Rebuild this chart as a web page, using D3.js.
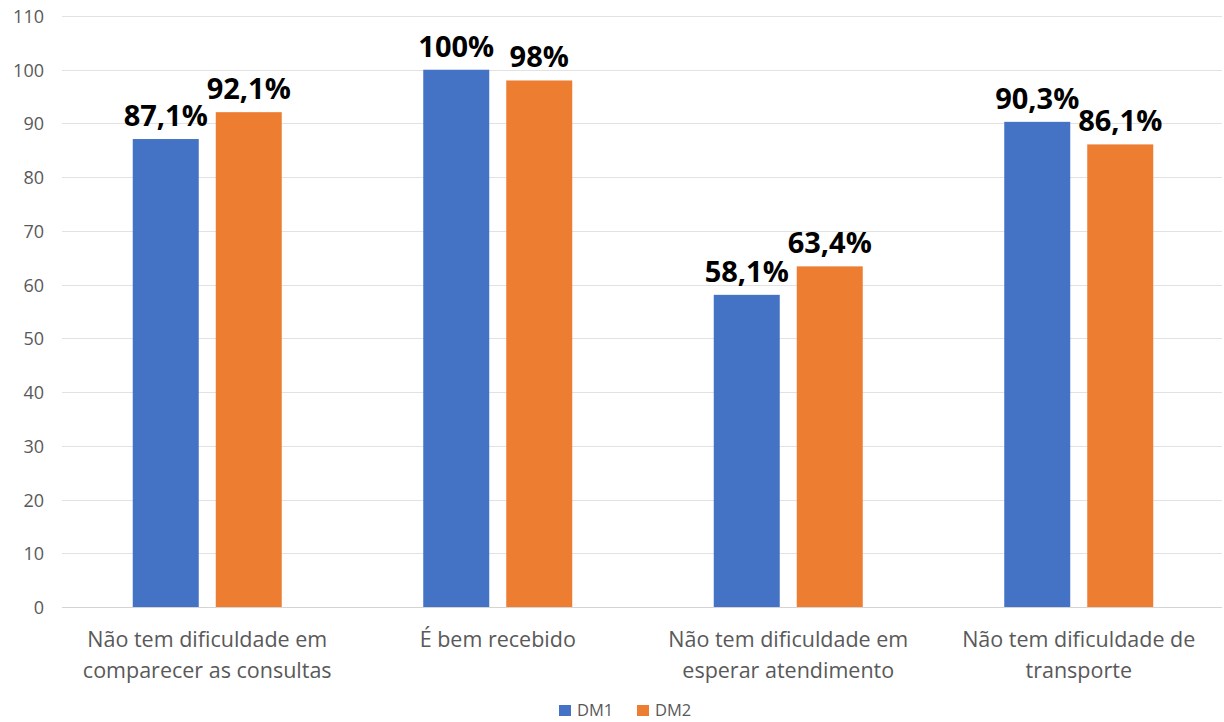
<!DOCTYPE html>
<html>
<head>
<meta charset="utf-8">
<script src="https://cdn.jsdelivr.net/npm/d3@7"></script>
<style>
  html, body { margin: 0; padding: 0; background: #fff; }
  svg { display: block; font-family: "Open Sans", sans-serif; }
</style>
</head>
<body>
<svg id="chart" width="1224" height="722"></svg>
<script>
// Categories (each label split into its display lines)
const categories = [
  ["Não tem dificuldade em", "comparecer as consultas"],
  ["É bem recebido"],
  ["Não tem dificuldade em", "esperar atendimento"],
  ["Não tem dificuldade de", "transporte"]
];
const seriesNames = ["DM1", "DM2"];
const dm1Values = [87.1, 100, 58.1, 90.3];
const dm2Values = [92.1, 98, 63.4, 86.1];
const dm1Labels = ["87,1%", "100%", "58,1%", "90,3%"];
const dm2Labels = ["92,1%", "98%", "63,4%", "86,1%"];
const yTicks = [0, 10, 20, 30, 40, 50, 60, 70, 80, 90, 100, 110];
const colors = ["#4472C4", "#ED7D31"];

const svg = d3.select("#chart");
const plotLeft = 62, plotRight = 1224, plotTop = 16, plotBottom = 607;

const x = d3.scaleBand()
  .domain(d3.range(categories.length))
  .range([plotLeft, plotRight])
  .paddingInner(0).paddingOuter(0);

const y = d3.scaleLinear().domain([0, 110]).range([plotBottom, plotTop]);

// Gridlines
svg.append("g")
  .selectAll("line")
  .data(yTicks)
  .join("line")
  .attr("x1", plotLeft).attr("x2", plotRight - 2)
  .attr("y1", d => Math.round(y(d)) + 0.5).attr("y2", d => Math.round(y(d)) + 0.5)
  .attr("stroke", d => d === 0 ? "#D4D4D4" : "#E2E2E2")
  .attr("stroke-width", 1);

// Y axis labels
const yAxis = d3.axisLeft(y).tickValues(yTicks).tickSize(0).tickPadding(0);
const yg = svg.append("g").attr("transform", "translate(44,0)").call(yAxis);
yg.select(".domain").remove();
yg.selectAll("text")
  .attr("fill", "#595959")
  .style("font-size", "18px")
  .style("font-family", '"Open Sans", sans-serif')
  .attr("dy", "0.36em");

// Bars and value labels
const barW = 66, gap = 17;
const series = [dm1Values, dm2Values];
const labels = [dm1Labels, dm2Labels];
series.forEach((vals, s) => {
  const offset = s === 0 ? -(gap / 2 + barW) : gap / 2;
  const g = svg.append("g");
  g.selectAll("rect")
    .data(vals)
    .join("rect")
    .attr("x", (d, i) => x(i) + x.bandwidth() / 2 + offset)
    .attr("y", d => y(d))
    .attr("width", barW)
    .attr("height", d => y(0) - y(d))
    .attr("fill", colors[s]);
  g.selectAll("text")
    .data(vals)
    .join("text")
    .attr("x", (d, i) => x(i) + x.bandwidth() / 2 + offset + barW / 2)
    .attr("y", d => y(d) - 13)
    .attr("text-anchor", "middle")
    .attr("fill", "#000")
    .style("font-size", "29px")
    .style("font-weight", "bold")
    .text((d, i) => labels[s][i]);
});

// Category labels
const cg = svg.append("g");
categories.forEach((lines, i) => {
  const cx = x(i) + x.bandwidth() / 2;
  const t = cg.append("text")
    .attr("x", cx)
    .attr("y", 647)
    .attr("text-anchor", "middle")
    .attr("fill", "#595959")
    .style("font-size", "21.5px");
  lines.forEach((ln, j) => {
    t.append("tspan")
      .attr("x", cx)
      .attr("dy", j === 0 ? 0 : 31)
      .text(ln);
  });
});

// Legend
const legend = svg.append("g").attr("transform", "translate(559,703)");
const legendItems = legend.selectAll("g")
  .data(seriesNames)
  .join("g")
  .attr("transform", (d, i) => `translate(${i * 78},0)`);
legendItems.append("rect")
  .attr("width", 12).attr("height", 11)
  .attr("y", 2)
  .attr("fill", (d, i) => colors[i]);
legendItems.append("text")
  .attr("x", 18).attr("y", 13)
  .attr("fill", "#595959")
  .style("font-size", "16.5px")
  .text(d => d);
</script>
</body>
</html>
